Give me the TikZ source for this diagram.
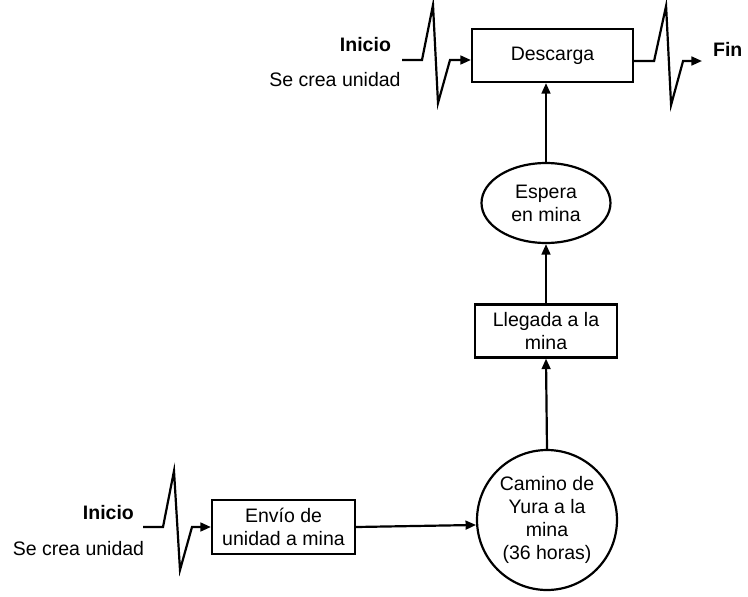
\documentclass[tikz,border=0pt]{standalone}
\usepackage{fontspec}
\setmainfont{Liberation Sans}
\usetikzlibrary{arrows.meta,shapes.geometric}

\begin{document}
\begin{tikzpicture}[
    x=0.02cm, y=-0.02cm, % one unit is one pixel of the sketch
    line width=1.25pt,
    >={Triangle[length=6pt,width=5pt]}, % arrow tip style
    every node/.style={font=\fontsize{11.1}{13.1}\selectfont, align=center},
    proc/.style={rectangle, draw, inner sep=0pt},
    wait/.style={ellipse, draw, inner sep=0pt},
    tag/.style={font=\fontsize{11.1}{13.1}\selectfont\bfseries, inner sep=0pt}
]
\useasboundingbox (0,0) rectangle (748,596);

% Define the nodes
\node[proc, minimum width=3.22cm, minimum height=1.06cm] (descarga) at (552.5,55.5) {Descarga};
\node[wait, minimum width=2.58cm, minimum height=1.6cm] (espera) at (546,203) {Espera\\en mina};
\node[proc, minimum width=2.84cm, minimum height=1.06cm] (llegada) at (546,331) {Llegada a la\\mina};
\node[circle, draw, minimum size=2.8cm, inner sep=0pt] (camino) at (547,520) {Camino de\\Yura a la\\mina\\(36 horas)};
\node[proc, minimum width=2.86cm, minimum height=1.08cm] (envio) at (283.5,527) {Envío de\\unidad a mina};

% Labels
\node[tag, anchor=east] (inicioA) at (392,45) {Inicio};
\node (creaA) at (335,80) {Se crea unidad};
\node[tag, anchor=west] (fin) at (712,49) {Fin};
\node[tag, anchor=east] (inicioB) at (135,513) {Inicio};
\node (creaB) at (78.5,549) {Se crea unidad};

% Start and end points of the zigzags
\coordinate (zA) at (402,60);
\coordinate (zB) at (143,527);
\coordinate (zC) at (702,61);

% Zigzag connectors
\draw[->] (zA) -- ++(20,0) -- ++(11,-55) -- ++(5,98) -- ++(12,-43) -- (descarga.west |- zA);
\draw[->] (descarga.east |- zC) -- ++(20,0) -- ++(12,-55) -- ++(5,99) -- ++(12,-44) -- (zC);
\draw[->] (zB) -- ++(20,0) -- ++(11,-56) -- ++(6,99) -- ++(12,-43) -- (envio.west |- zB);

% Define the directed edges
\draw[->] (envio.east) -- (camino.184);
\draw[->] (camino.north) -- (llegada.south);
\draw[->] (llegada.north) -- (espera.south);
\draw[->] (espera.north) -- (espera.north |- descarga.south);

\end{tikzpicture}
\end{document}
